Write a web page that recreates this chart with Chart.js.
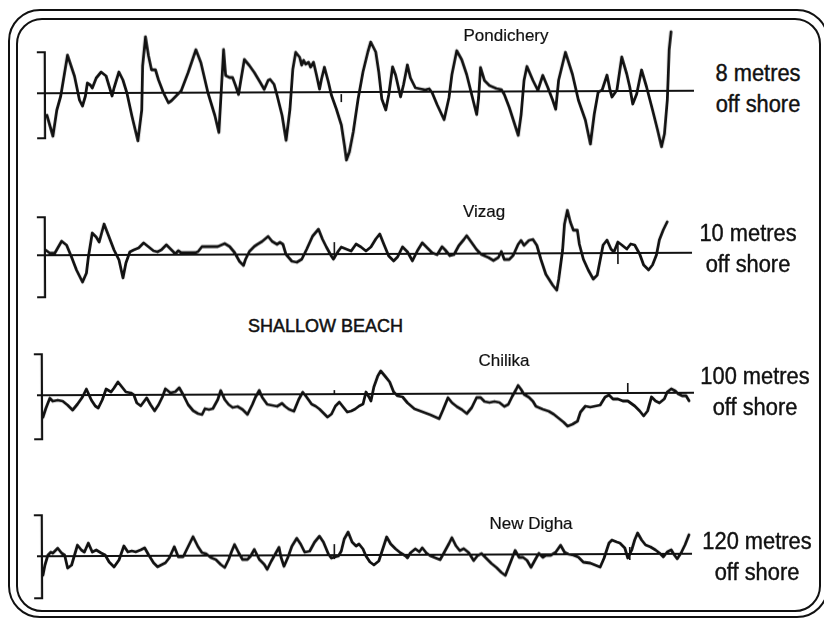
<!DOCTYPE html>
<html>
<head>
<meta charset="utf-8">
<script src="https://cdn.jsdelivr.net/npm/chart.js@4.4.0/dist/chart.umd.min.js"></script>
<style>
  html, body { margin: 0; padding: 0; background: #fff; }
  #page { position: relative; width: 824px; height: 618px; overflow: hidden; font-family: "Liberation Sans", Arial, sans-serif; color: #111; }
  .frame { position: absolute; border: 2px solid #111; }
  #outer { left: 8px; top: 9px; width: 817px; height: 605px; border-radius: 32px; }
  #inner { left: 16px; top: 18px; width: 801px; height: 590px; border-radius: 26px; }
  canvas.trace { position: absolute; left: 27px; transform: rotate(-0.22deg); }
  .site { position: absolute; font-size: 17px; line-height: 20px; white-space: nowrap; transform: translateX(-50%); -webkit-text-stroke: 0.2px #111; }
  .depth { position: absolute; font-size: 23px; line-height: 31px; text-align: center; white-space: nowrap; transform: translateX(-50%) scaleX(0.95); -webkit-text-stroke: 0.4px #111; }
  #beach { position: absolute; left: 248px; top: 316px; font-size: 18px; line-height: 20px; white-space: nowrap; -webkit-text-stroke: 0.5px #111; }
</style>
</head>
<body>
<div id="page">
  <div class="frame" id="outer"></div>
  <div class="frame" id="inner"></div>
  <div id="beach">SHALLOW BEACH</div>
</div>
<script>
// sites and recording depth
const sites = ["Pondichery", "Vizag", "Chilika", "New Digha"];
const depths = ["8 metres", "10 metres", "100 metres", "120 metres"];

// wave records: time (arbitrary units) and surface elevation
const pondicheryT = [2, 8, 12, 16, 23, 30, 35, 38, 41, 43, 46, 48, 52, 57, 62, 65, 68, 70, 75, 79,
  83, 88, 94, 98, 99, 102, 105, 108, 112, 115, 120, 125, 128, 133, 138, 145, 153, 158, 165, 172,
  176, 178, 181, 183, 187, 190, 193, 196, 198, 202, 207, 212, 218, 222, 226, 228, 232, 235, 240, 244,
  248, 251, 254, 258, 260, 262, 264, 267, 269, 272, 275, 278, 280, 283, 287, 290, 295, 300, 303, 305,
  308, 312, 317, 322, 327, 330, 335, 338, 341, 345, 348, 352, 355, 360, 363, 367, 370, 375, 380, 385,
  389, 392, 397, 404, 409, 412, 417, 422, 427, 432, 437, 439, 441, 445, 450, 457, 462, 465, 470, 479,
  482, 485, 488, 494, 499, 504, 509, 514, 517, 520, 527, 534, 540, 547, 552, 556, 560, 564, 569, 572,
  574, 579, 584, 589, 592, 595, 599, 604, 609, 615, 620, 624, 627, 630, 632, 634];
const pondicheryA = [-22, -43, -17, -3, 38, 17, -7, -13, -3, 10, 8, 5, 15, 21, 17, 7, -3, 5, 21, 13,
  0, -23, -48, -17, 27, 56, 37, 23, 23, 13, 0, -10, -8, -3, 2, 20, 43, 30, 0, -23,
  -40, -7, 43, 17, 15, 15, 7, -2, 10, 33, 27, 20, 10, 3, 12, 13, 8, -3, -23, -48,
  -17, 23, 40, 35, 27, 32, 28, 30, 25, 30, 17, 3, 13, 25, 10, -3, -17, -33, -53, -68,
  -60, -40, -7, 20, 40, 50, 40, 20, -7, -18, -3, 25, 17, -5, 7, 27, 14, 4, 3, 2,
  3, -1, -13, -28, -6, 17, 41, 32, 17, -3, -23, -6, 24, 11, 6, 3, 2, -3, -16, -44,
  -23, 11, 25, 11, 1, 16, 4, -9, -18, 11, 39, 17, -9, -29, -53, -23, -1, 1, 16, 1,
  -6, 1, 34, 17, 4, -13, -3, 21, 4, -19, -39, -56, -43, -9, 41, 59];

const vizagT = [1, 5, 10, 17, 22, 27, 32, 38, 42, 44, 48, 52, 55, 60, 65, 70, 75, 79, 82, 86,
  90, 95, 100, 105, 110, 114, 118, 123, 128, 132, 135, 138, 145, 152, 155, 159, 168, 175, 182, 187,
  192, 197, 201, 203, 207, 212, 215, 220, 226, 230, 235, 238, 241, 244, 250, 255, 260, 265, 271, 277,
  281, 285, 290, 292, 297, 300, 305, 310, 315, 320, 325, 330, 335, 339, 343, 348, 353, 357, 362, 367,
  372, 377, 382, 387, 392, 397, 402, 405, 410, 414, 419, 424, 427, 432, 437, 442, 449, 454, 459, 462,
  465, 470, 474, 479, 482, 485, 490, 494, 498, 502, 507, 514, 518, 520, 524, 526, 529, 532, 535, 539,
  541, 545, 550, 555, 559, 562, 565, 569, 573, 576, 580, 584, 589, 593, 597, 602, 606, 611, 615, 619,
  622, 626, 630];
const vizagA = [5, 2, 2, 14, 10, -2, -15, -27, -18, -2, 22, 18, 13, 31, 18, 5, -5, -23, -8, 3,
  5, 7, 12, 8, 4, 3, 5, 10, 5, 1, 4, 2, 2, 2, 3, 8, 8, 8, 11, 8,
  2, -7, -11, -5, 3, 8, 10, 13, 18, 13, 10, 12, 10, 0, -7, -8, -5, 5, 18, 25,
  15, 7, -2, -5, 3, 7, 5, 3, 10, 7, 3, 7, 15, 20, 10, -2, -7, -3, 7, 2,
  -7, 3, 11, 6, 1, -1, 7, 4, -2, -1, 8, 14, 18, 11, 4, -1, -4, -7, -4, 2,
  -6, -6, -2, 9, 13, 8, 13, 14, 8, -6, -21, -32, -37, -26, 3, 29, 43, 31, 23, 23,
  9, -6, -17, -26, -22, -7, 8, 13, 4, 1, 11, 8, 4, 9, 8, -1, -12, -17, -12, -2,
  13, 23, 31];

const chilikaT = [-2, 1, 5, 8, 13, 18, 23, 28, 33, 38, 42, 47, 51, 54, 58, 62, 67, 70, 74, 78,
  82, 87, 90, 93, 97, 100, 103, 107, 111, 115, 119, 122, 127, 132, 136, 140, 145, 150, 155, 159,
  162, 166, 170, 175, 178, 182, 186, 190, 195, 200, 205, 210, 213, 217, 220, 225, 230, 235, 240, 243,
  247, 252, 257, 261, 265, 270, 274, 278, 282, 286, 290, 294, 298, 302, 306, 310, 314, 318, 322, 325,
  328, 330, 333, 337, 340, 345, 349, 353, 357, 362,
  367, 374, 382, 390, 399, 403, 408, 412, 417, 422, 427, 432, 437, 441, 445, 450, 455, 460, 465, 469,
  473, 477, 479, 482, 485, 490, 494, 497, 504, 510, 515, 520, 525, 529, 534, 539, 542, 547, 552, 557,
  562, 567, 571, 575, 580, 585, 590, 597, 602, 606, 610, 614, 618, 622, 627, 630, 634, 638, 641, 645,
  649, 652];
const chilikaA = [-22, -13, -3, -6, -5, -6, -10, -15, -9, -2, 6, -5, -11, -13, -5, 6, 3, 7, 13, 8,
  3, 2, 0, -8, -11, -7, -3, -10, -16, -10, -2, 6, 2, 3, 7, 0, -10, -16, -19, -20,
  -14, -15, -14, -5, 4, -5, -10, -13, -12, -15, -20, -10, -3, 4, -3, -10, -11, -12, -9, -12,
  -15, -17, -5, 2, -3, -10, -12, -15, -19, -23, -20, -12, -8, -13, -18, -17, -15, -12, -10, 2,
  -3, -7, 7, 18, 23, 17, 12, 2, -2, -3,
  -9, -15, -18, -21, -25, -16, -4, -9, -13, -16, -20, -14, -4, -4, -8, -9, -8, -9, -13, -11,
  -3, 4, 8, 4, -1, -4, -8, -13, -16, -18, -21, -25, -29, -33, -31, -28, -19, -13, -14, -13,
  -12, -4, -2, -6, -6, -8, -8, -13, -18, -23, -18, -4, -8, -10, -6, 1, 4, 2, -1, -3,
  -3, -8];

const newDighaT = [-2, 0, 3, 6, 8, 11, 13, 17, 20, 23, 27, 30, 33, 37, 40, 44, 48, 52, 57, 61,
  65, 70, 75, 80, 84, 88, 92, 97, 101, 105, 110, 114, 118, 122, 126, 131, 135, 140, 145, 150,
  155, 159, 163, 168, 173, 178, 182, 186, 189, 192, 196, 200, 205, 208, 212, 217, 222, 225, 229, 233,
  237, 239, 242, 246, 250, 255, 259, 263, 268, 273, 278, 282, 287, 290, 293, 297, 300, 303, 307, 311,
  315, 318, 322, 325, 329, 333, 338, 342, 346, 350, 355, 360, 365,
  367, 370, 375, 379, 382, 386, 390, 395, 400, 404, 409, 412, 416, 420, 424, 429, 434, 438, 442, 447,
  452, 457, 462, 466, 470, 474, 476, 480, 484, 488, 492, 497, 500, 504, 507, 512, 517, 522, 526, 530,
  535, 540, 545, 552, 557, 562, 566, 571, 574, 579, 582, 587, 590, 594, 597, 600, 604, 608, 613, 618,
  622, 626, 630, 634, 637, 640, 644, 648, 652];
const newDighaA = [-19, -9, 1, 4, 3, 6, 8, 3, 1, -12, -9, 1, 11, 6, 4, 13, 4, 6, 3, 1,
  -6, -11, -4, 10, 4, 5, 4, 6, 8, 1, -7, -11, -9, -7, -2, 9, -1, -1, 9, 19,
  9, 3, 2, -2, -4, -9, -12, -4, 4, 11, 3, -4, -4, -1, 6, -4, -9, -14, -6, 1,
  8, -2, -11, -2, 9, 17, 11, 3, 4, 13, 19, 13, 1, -3, -2, -1, 4, 16, 23, 13,
  9, 11, 6, -1, -7, -10, -6, 6, 18, 11, 6, 2, -1,
  -3, 2, 6, 3, 7, 2, -1, -3, -5, 2, 11, 17, 9, 4, 6, 2, -6, -1, 1, -4,
  -9, -13, -18, -21, -11, -1, 4, -3, -3, -6, -13, -4, 1, -3, -1, -1, 2, 9, 2, 0,
  -1, -3, -8, -9, -11, -13, -4, 11, 14, 12, 11, 6, -4, 4, 14, 21, 14, 9, 7, 4,
  1, -3, 2, 4, -1, -5, 1, 9, 19];

// small time marks on the records: [time, from, to]
const pondicheryMarks = [[300, -10, -2]];
const vizagMarks = [[293, -5, 12], [580, -11, 11]];
const chilikaMarks = [[293, 0, 4], [590, 0, 10]];
const newDighaMarks = [[293, -4, 11], [592, -6, 7]];

// scale bar at the start of each record, and mean level extent
const scaleBarT = [0, 0, -3, -3];
const scaleBarTop = [41, 38, 41, 41];
const scaleBarBottom = [-45, -42, -44, -42];
const meanLineStart = -8;
const meanLineEnd = [657, 655, 657, 655];

const records = [
  [pondicheryT, pondicheryA, pondicheryMarks],
  [vizagT, vizagA, vizagMarks],
  [chilikaT, chilikaA, chilikaMarks],
  [newDighaT, newDighaA, newDighaMarks]
];

// page layout
const canvasTop = [22, 184, 324, 485];
const siteLabelPos = [[506, 26], [484, 202], [504, 351], [531, 514]];
const depthLabelPos = [[758, 58], [748, 218], [755, 361], [757, 526]];

const page = document.getElementById("page");
const ink = "#111";

records.forEach(function (rec, i) {
  const canvas = document.createElement("canvas");
  canvas.className = "trace";
  canvas.width = 685;
  canvas.height = 150;
  canvas.style.top = canvasTop[i] + "px";
  page.appendChild(canvas);

  const wave = rec[0].map(function (t, k) { return { x: t, y: rec[1][k] }; });
  const marks = [];
  rec[2].forEach(function (m) {
    marks.push({ x: m[0], y: m[1] }, { x: m[0], y: m[2] }, { x: m[0], y: null });
  });
  const b = scaleBarT[i];
  const bar = [
    { x: b - 8, y: scaleBarTop[i] }, { x: b, y: scaleBarTop[i] },
    { x: b, y: scaleBarBottom[i] }, { x: b - 8, y: scaleBarBottom[i] }
  ];

  new Chart(canvas.getContext("2d"), {
    type: "line",
    data: {
      datasets: [
        { data: [{ x: meanLineStart, y: 0 }, { x: meanLineEnd[i], y: 0 }], borderColor: ink, borderWidth: 2.2 },
        { data: bar, borderColor: ink, borderWidth: 2.2, borderJoinStyle: "miter" },
        { data: marks, borderColor: ink, borderWidth: 1.6, spanGaps: false },
        { data: wave, borderColor: ink, borderWidth: 2.8, borderJoinStyle: "round", borderCapStyle: "round" }
      ]
    },
    options: {
      responsive: false,
      animation: false,
      events: [],
      layout: { padding: { left: 10, right: 18, top: 5, bottom: 5 } },
      datasets: { line: { pointRadius: 0, tension: 0, fill: false, clip: false } },
      plugins: { legend: { display: false }, tooltip: { enabled: false }, colors: { enabled: false } },
      scales: {
        x: { type: "linear", min: -8, max: 657, display: false },
        y: { min: -75, max: 65, display: false }
      }
    }
  });

  const s = document.createElement("div");
  s.className = "site";
  s.textContent = sites[i];
  s.style.left = siteLabelPos[i][0] + "px";
  s.style.top = siteLabelPos[i][1] + "px";
  page.appendChild(s);

  const d = document.createElement("div");
  d.className = "depth";
  d.innerHTML = depths[i] + "<br>off shore";
  d.style.left = depthLabelPos[i][0] + "px";
  d.style.top = depthLabelPos[i][1] + "px";
  page.appendChild(d);
});
</script>
</body>
</html>
